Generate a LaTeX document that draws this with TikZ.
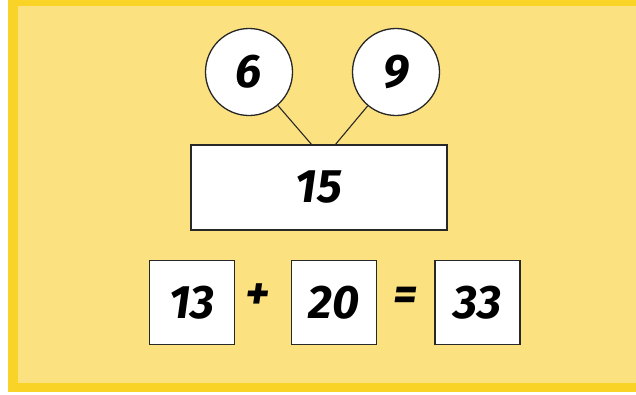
\documentclass[tikz,border=0pt]{standalone}
\usepackage{fontspec}
\setmainfont{Fira Sans}
\definecolor{bordery}{RGB}{249,212,38}
\definecolor{filly}{RGB}{251,225,128}
\definecolor{edge}{RGB}{40,40,40}
\begin{document}
\begin{tikzpicture}[x=1pt,y=-1pt,
  num/.style={font=\fontsize{47}{47}\selectfont\bfseries\itshape},
  bubble/.style={circle,draw=edge,line width=1.3pt,fill=white,minimum size=87pt,inner sep=0pt,num},
  box/.style={draw=edge,line width=1.3pt,fill=white,inner sep=0pt,num},
  link/.style={draw=edge,line width=1.1pt}]
\useasboundingbox (0,0) rectangle (636,394);
\fill[white] (0,0) rectangle (636,394);
\fill[bordery] (8,0) rectangle (636,392);
\fill[filly] (18,6) rectangle (636,383);
\node[bubble] (c6) at (249,72) {6};
\node[bubble] (c9) at (396,72) {9};
\node[box,minimum width=256pt,minimum height=85pt] (sum) at (319,187.5) {15};
\coordinate (t1) at (312,145);
\coordinate (t2) at (335,145);
\draw[link] (c6) -- (t1);
\draw[link] (c9) -- (t2);
\node[box,minimum width=85pt,minimum height=84pt] (b13) at (192,302.5) {13};
\node[box,minimum width=85pt,minimum height=84pt] (b20) at (334,302.5) {20};
\node[box,minimum width=85pt,minimum height=84pt] (b33) at (477.5,302.5) {33};
\node[num] (plus) at (258,297) {+};
\node[num] (eq) at (405,299) {=};
\end{tikzpicture}
\end{document}
